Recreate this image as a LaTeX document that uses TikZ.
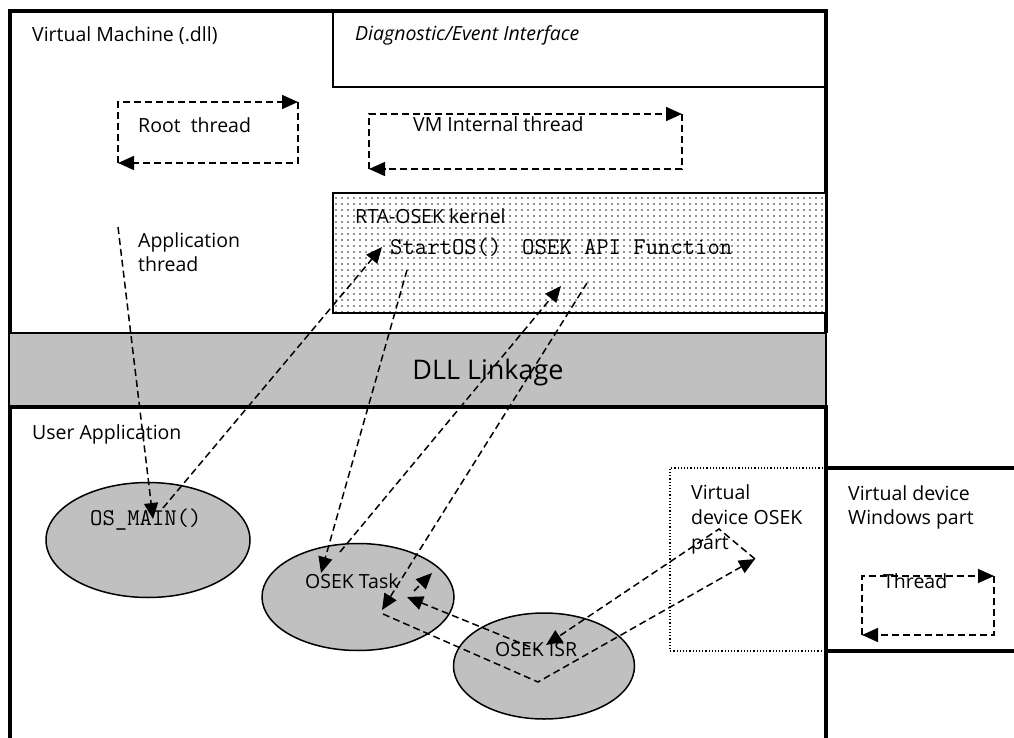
\documentclass[tikz,border=0pt]{standalone}
\usepackage{fontspec}
\setmainfont{Open Sans}
\usetikzlibrary{arrows.meta,shapes.geometric,patterns.meta}
\definecolor{silver}{HTML}{C0C0C0}
\tikzset{
  frame/.style={line width=3.2pt},
  thinbox/.style={line width=1.5pt},
  dl/.style={line width=1.5pt, dash pattern=on 7pt off 4pt},
  arr/.style={dl, -{Triangle[length=16pt,width=14pt]}},
  ell/.style={ellipse, draw, fill=silver, line width=1.5pt, inner sep=0pt},
  txt/.style={anchor=base west, inner sep=0pt, font=\fontsize{19.5}{23}\selectfont},
  ttxt/.style={anchor=base west, inner sep=0pt, font=\ttfamily\fontsize{24}{27}\selectfont},
}
\begin{document}
\begin{tikzpicture}[x=1pt,y=-1pt]
\useasboundingbox (0,0) rectangle (1014,738);
% Virtual machine frame
\draw[frame] (10,333) -- (10,11) -- (826,11) -- (826,333);
\draw[thinbox] (333,11) rectangle (826,87);
\fill[white] (333,193) rectangle (826,313);
\fill[pattern={Dots[distance=6pt,radius=0.85pt]}, pattern color=black!85] (333,193) rectangle (826,313);
\draw[line width=1.8pt] (333,193) rectangle (826,313);
% DLL band
\draw[fill=silver, line width=1.2pt] (9,333) rectangle (826,407);
% User application
\draw[frame] (10,745) -- (10,407) -- (826,407) -- (826,745);
% Windows part
\draw[frame] (826,468) -- (1020,468);
\draw[frame] (826,651) -- (1020,651);
\draw[line width=1.2pt, dash pattern=on 1.2pt off 2pt] (826,468) -- (670,468) -- (670,651) -- (826,651);

% ellipses
\node[ell, minimum width=204pt, minimum height=115pt] (osmain) at (148,540) {};
\node[ell, minimum width=192pt, minimum height=107pt] (task) at (358,597) {};
\node[ell, minimum width=181pt, minimum height=106pt] (isr) at (544,666) {};

% texts
\node[txt] (vmlbl) at (32,42) {Virtual Machine (.dll)};
\node[txt, font=\itshape\fontsize{19.5}{23}\selectfont] (diaglbl) at (355,41) {Diagnostic/Event Interface};
\node[txt] (rootlbl) at (138,133) {Root\ \ thread};
\node[txt] (vmintlbl) at (413,132) {VM Internal thread};
\node[txt] (applbl) at (138,247) {Application};
\node[txt] (applbl2) at (138,271) {thread};
\node[txt] (rtalbl) at (355,223) {RTA-OSEK kernel};
\node[ttxt] (startos) at (390,254) {StartOS()};
\node[ttxt] (apifn) at (522,254) {OSEK API Function};
\node[anchor=base, inner sep=0pt, font=\fontsize{27}{31}\selectfont] (dll) at (488,379) {DLL Linkage};
\node[txt] (ualbl) at (32,439) {User Application};
\node[ttxt] (osmaintxt) at (90,525) {OS\_MAIN()};
\node[txt] (tasktxt) at (305,588) {OSEK Task};
\node[txt] (isrtxt) at (495,656) {OSEK ISR};
\node[txt] (vd1) at (691,499) {Virtual};
\node[txt] (vd2) at (691,524) {device OSEK};
\node[txt] (vd3) at (691,549) {part};
\node[txt] (wp1) at (848,500) {Virtual device};
\node[txt] (wp2) at (848,524) {Windows part};
\node[txt] (thr) at (883,588) {Thread};

% loop coordinates
\coordinate (r1) at (118,102); \coordinate (r2) at (298,102);
\coordinate (r3) at (298,163); \coordinate (r4) at (118,163);
\draw[arr] (r4) -- (r1) -- (r2);
\draw[arr] (r2) -- (r3) -- (r4);
\coordinate (v1) at (369,114); \coordinate (v2) at (682,114);
\coordinate (v3) at (682,169); \coordinate (v4) at (369,169);
\draw[arr] (v4) -- (v1) -- (v2);
\draw[arr] (v2) -- (v3) -- (v4);
\coordinate (t1) at (862,576); \coordinate (t2) at (994,576);
\coordinate (t3) at (994,635); \coordinate (t4) at (862,635);
\draw[arr] (t4) -- (t1) -- (t2);
\draw[arr] (t2) -- (t3) -- (t4);

% connectors
\coordinate (appstart) at (118,227);
\coordinate (mainin) at (153,519);
\coordinate (mainout) at (163,508);
\coordinate (startin) at (382,247);
\coordinate (startout) at (407,270);
\coordinate (taskin1) at (321,573);
\coordinate (taskout1) at (340,552);
\coordinate (apiin) at (561,286);
\coordinate (apiout) at (587,283);
\coordinate (taskin2) at (382,610);
\coordinate (taskout2) at (383,614);
\coordinate (isrlow) at (538,682);
\coordinate (vdin) at (755,559);
\coordinate (vdtop) at (719,529);
\coordinate (isrin) at (546,645);
\coordinate (isrout) at (540,651);
\coordinate (taskin3) at (407,597);
\coordinate (taskout3) at (414,591);
\coordinate (taskin4) at (432,573);

\draw[arr] (appstart) -- (mainin);
\draw[arr] (mainout) -- (startin);
\draw[arr] (startout) -- (taskin1);
\draw[arr] (taskout1) -- (apiin);
\draw[arr] (apiout) -- (taskin2);
\draw[arr] (taskout2) -- (isrlow) -- (vdin);
\draw[arr] (vdin) -- (vdtop) -- (isrin);
\draw[arr] (isrout) -- (taskin3);
\draw[arr] (taskout3) -- (taskin4);
\end{tikzpicture}
\end{document}
